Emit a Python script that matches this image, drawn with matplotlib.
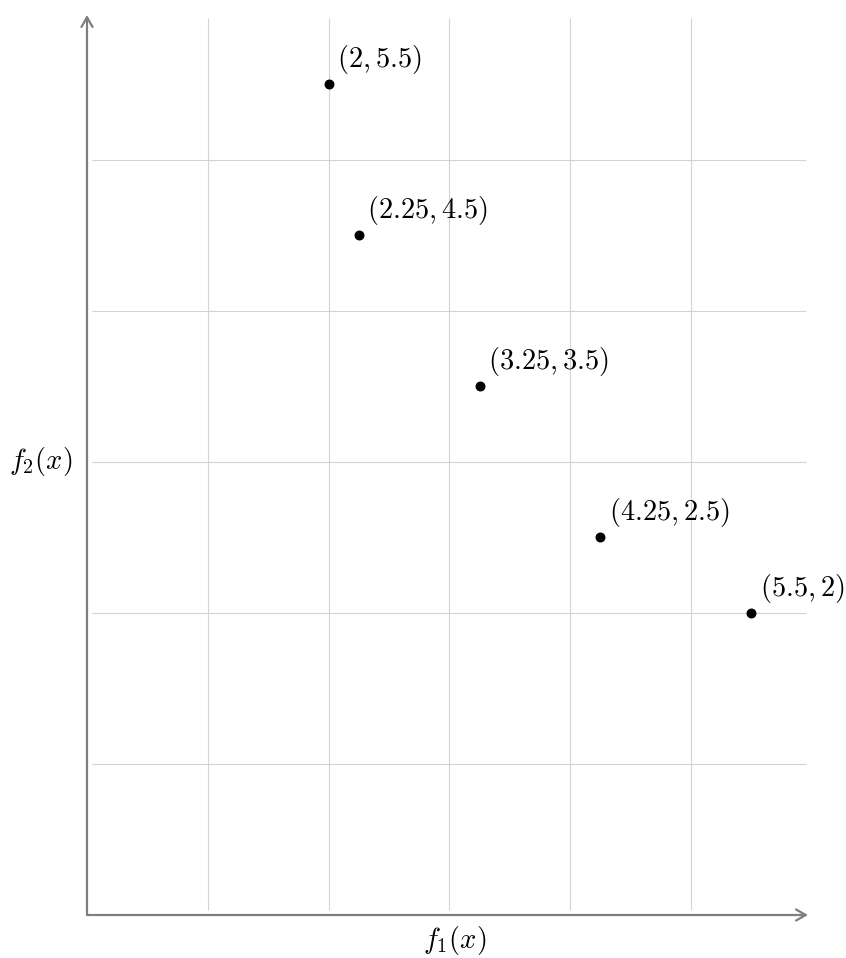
import matplotlib.pyplot as plt

plt.rcParams['mathtext.fontset'] = 'cm'
plt.rcParams['font.family'] = 'DejaVu Serif'

f1 = [2, 2.25, 3.25, 4.25, 5.5]
f2 = [5.5, 4.5, 3.5, 2.5, 2]
labels = [r'$(2, 5.5)$', r'$(2.25, 4.5)$', r'$(3.25, 3.5)$', r'$(4.25, 2.5)$', r'$(5.5, 2)$']
xgrid = [1, 2, 3, 4, 5]
ygrid = [1, 2, 3, 4, 5]

W, H = 846, 958
fig = plt.figure(figsize=(W / 100, H / 100), dpi=100)
# axes box in pixels: left 87, right 808, top 15, bottom 915
ax = fig.add_axes([87 / W, (H - 915) / H, (808 - 87) / W, (915 - 15) / H])
xmax, ymax = 5.97, 5.96
ax.set_xlim(0, xmax)
ax.set_ylim(0, ymax)
for s in ax.spines.values():
    s.set_visible(False)
ax.set_xticks([])
ax.set_yticks([])

gc = '#d3d3d3'
ax.vlines(xgrid, 0.03, ymax - 0.02, color=gc, lw=0.8, zorder=1)
ax.hlines(ygrid, 0.04, xmax - 0.02, color=gc, lw=0.8, zorder=1)

axc = '#7f7f7f'
arrow = dict(arrowstyle='->,head_length=0.7,head_width=0.4', color=axc, lw=1.6, shrinkA=0, shrinkB=0)
ax.annotate('', xy=(xmax, 0), xytext=(0, 0), arrowprops=arrow, annotation_clip=False)
ax.annotate('', xy=(0, ymax), xytext=(0, 0), arrowprops=arrow, annotation_clip=False)

ax.scatter(f1, f2, s=38, color='black', zorder=3)
for x, y, lab in zip(f1, f2, labels):
    ax.annotate(lab, (x, y), xytext=(6, 6), textcoords='offset points',
                ha='left', va='bottom', fontsize=20.5)

ax.text(3.04, -0.17, r'$f_1(x)$', ha='center', va='center', fontsize=20.5)
ax.text(-0.12, 3, r'$f_2(x)$', ha='right', va='center', fontsize=20.5)

fig.savefig('out.png', dpi=100)
